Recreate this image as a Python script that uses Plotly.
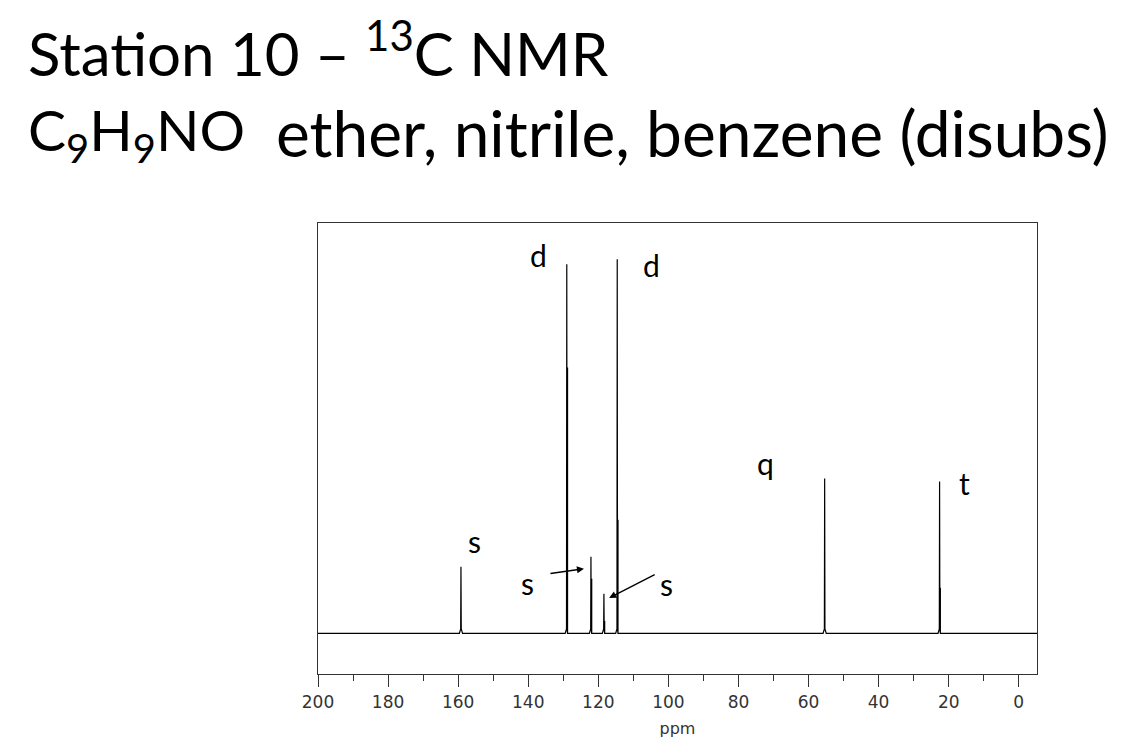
import plotly.graph_objects as go

# 13C peaks: shift (ppm), main line height, shorter neighbouring line height
peak_ppm = [159.2, 129.0, 122.1, 118.4, 114.6, 55.4, 22.6]
peak_height = [17.8, 98.7, 20.5, 10.6, 100.0, 41.4, 40.6]
inner_height = [0, 71.1, 14.6, 3.3, 30.4, 0, 12.2]

# handwritten multiplicity labels
mult_text = ["s", "d", "s", "s", "d", "q", "t"]
mult_x = [155.2, 137.2, 140.1, 100.4, 104.9, 72.4, 15.6]
mult_y = [24.8, 101.1, 13.5, 13.3, 98.4, 45.6, 40.3]

tick_vals = list(range(0, 201, 20))

# build the spectrum line from the peak list
xs, ys = [200.0], [0.0]
for p, h, h2 in sorted(zip(peak_ppm, peak_height, inner_height), reverse=True):
    xs += [p + 0.45, p + 0.08, p, p - 0.08]
    ys += [0, 1.2, h, 1.2]
    if h2:
        xs += [p - 0.22, p - 0.22, p - 0.22]
        ys += [0, h2, 0]
    xs += [p - 0.45]
    ys += [0]
xs.append(-5.2)
ys.append(0.0)

fig = go.Figure()
fig.add_trace(go.Scatter(x=xs, y=ys, mode="lines",
                         line=dict(color="black", width=1.2),
                         hoverinfo="skip", showlegend=False))

annotations = []
for t, x, y in zip(mult_text, mult_x, mult_y):
    annotations.append(dict(x=x, y=y, text=t, showarrow=False,
                            font=dict(family="Lato", size=30, color="black")))

# hand-drawn arrows pointing to the small singlets
annotations.append(dict(x=124.1, y=17.3, ax=-35, ay=5, text="", showarrow=True,
                        arrowhead=2, arrowsize=1, arrowwidth=1.4, arrowcolor="black"))
annotations.append(dict(x=116.9, y=9.5, ax=47, ay=-24, text="", showarrow=True,
                        arrowhead=2, arrowsize=1, arrowwidth=1.4, arrowcolor="black"))

# slide titles
annotations.append(dict(xref="paper", yref="paper", x=-0.406, y=1.385,
                        xanchor="left", yanchor="middle", showarrow=False,
                        text="Station 10 – <sup>13</sup>C NMR",
                        font=dict(family="Lato", size=60, color="black")))
annotations.append(dict(xref="paper", yref="paper", x=-0.406, y=1.2,
                        xanchor="left", yanchor="middle", showarrow=False,
                        text="C<sub>9</sub>H<sub>9</sub>NO",
                        font=dict(family="Lato", size=57, color="black")))
annotations.append(dict(xref="paper", yref="paper", x=-0.0612, y=1.2,
                        xanchor="left", yanchor="middle", showarrow=False,
                        text="ether, nitrile, benzene (disubs)",
                        font=dict(family="Lato", size=64, color="black")))

fig.update_layout(
    width=1120, height=740,
    margin=dict(l=310, r=91, t=215, b=74),
    paper_bgcolor="white", plot_bgcolor="white",
    annotations=annotations,
    xaxis=dict(range=[200, -5.2], tickvals=tick_vals, ticks="outside", ticklen=12,
               tickcolor="#333", minor=dict(dtick=10, ticks="outside", ticklen=6, tickcolor="#333"),
               showline=True, mirror=True, linecolor="#333", linewidth=1.2,
               showgrid=False, zeroline=False,
               tickfont=dict(family="DejaVu Sans", size=17, color="#333"),
               title=dict(text="ppm", standoff=12,
                          font=dict(family="DejaVu Sans", size=16, color="#333"))),
    yaxis=dict(range=[-10.84, 109.7], showline=True, mirror=True, linecolor="#333",
               linewidth=1.2, showticklabels=False, ticks="", showgrid=False,
               zeroline=False),
)

fig.write_html("out.html")
